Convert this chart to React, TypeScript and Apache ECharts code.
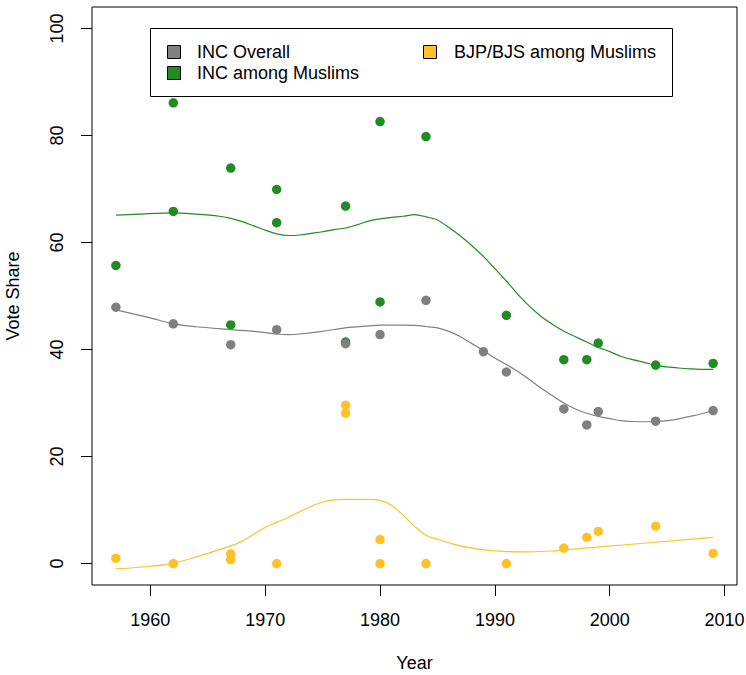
import React, { useEffect, useRef } from "react";
import * as echarts from "echarts";

const xTicks = [1960, 1970, 1980, 1990, 2000, 2010];
const yTicks = [0, 20, 40, 60, 80, 100];

const legendNames = ["INC Overall", "INC among Muslims", "BJP/BJS among Muslims"];

const incOverallYears = [1957, 1962, 1967, 1971, 1977, 1980, 1984, 1989, 1991, 1996, 1998, 1999, 2004, 2009];
const incOverallVals = [47.9, 44.8, 40.9, 43.7, 41.1, 42.8, 49.2, 39.6, 35.8, 28.9, 25.9, 28.4, 26.6, 28.6];

const incMuslimYears = [1957, 1962, 1962, 1967, 1967, 1971, 1971, 1977, 1977, 1980, 1980, 1984, 1991, 1996, 1998, 1999, 2004, 2009];
const incMuslimVals = [55.7, 86.1, 65.8, 73.9, 44.6, 69.9, 63.7, 66.8, 41.4, 82.6, 48.9, 79.8, 46.4, 38.1, 38.1, 41.2, 37.1, 37.4];

const bjpYears = [1957, 1962, 1967, 1967, 1971, 1977, 1977, 1980, 1980, 1984, 1991, 1996, 1998, 1999, 2004, 2009];
const bjpVals = [1.0, 0, 1.8, 0.75, 0, 29.6, 28.1, 4.5, 0, 0, 0, 2.9, 4.9, 6.0, 7.0, 1.9];

const overallCurveYears = [1957, 1960, 1962, 1964, 1966, 1967, 1969, 1971, 1972, 1973, 1975, 1977, 1979, 1980, 1982, 1983, 1984, 1985, 1986, 1987, 1988, 1989, 1990, 1991, 1992, 1993, 1994, 1995, 1996, 1997, 1998, 1999, 2000, 2001, 2002, 2003, 2004, 2005, 2006, 2007, 2008, 2009];
const overallCurveVals = [47.4, 45.9, 44.8, 44.25, 43.9, 43.7, 43.4, 42.9, 42.8, 42.9, 43.4, 44.05, 44.4, 44.55, 44.55, 44.5, 44.3, 44.05, 43.4, 42.4, 41.1, 39.8, 38.4, 37.2, 35.9, 34.4, 32.8, 31.4, 30.0, 28.9, 28.1, 27.5, 27.1, 26.7, 26.55, 26.5, 26.55, 26.7, 27.05, 27.5, 28.0, 28.6];

const muslimCurveYears = [1957, 1959, 1962, 1964, 1966, 1967, 1968, 1969, 1970, 1971, 1972, 1973, 1974, 1975, 1976, 1977, 1978, 1979, 1980, 1981, 1982, 1983, 1984, 1985, 1986, 1987, 1988, 1989, 1990, 1991, 1992, 1993, 1994, 1995, 1996, 1997, 1998, 1999, 2000, 2001, 2002, 2003, 2004, 2005, 2006, 2007, 2008, 2009];
const muslimCurveVals = [65.1, 65.3, 65.55, 65.3, 64.9, 64.5, 63.9, 63.1, 62.3, 61.6, 61.3, 61.4, 61.7, 62.0, 62.4, 62.7, 63.3, 64.0, 64.4, 64.7, 64.9, 65.2, 64.8, 64.2, 62.8, 61.2, 59.4, 57.4, 55.1, 52.8, 50.3, 48.1, 46.2, 44.7, 43.4, 42.4, 41.4, 40.4, 39.6, 38.7, 38.1, 37.6, 37.05, 36.75, 36.55, 36.4, 36.3, 36.3];

const bjpCurveYears = [1957, 1960, 1962, 1964, 1966, 1967, 1968, 1969, 1970, 1971, 1972, 1973, 1974, 1975, 1976, 1977, 1979, 1980, 1981, 1982, 1983, 1984, 1985, 1986, 1987, 1988, 1989, 1990, 1991, 1993, 1995, 1996, 2009];
const bjpCurveVals = [-1.0, -0.5, 0.05, 1.25, 2.6, 3.3, 4.2, 5.5, 6.75, 7.7, 8.6, 9.7, 10.7, 11.5, 11.9, 12.0, 12.0, 11.8, 10.9, 9.05, 7.0, 5.3, 4.55, 3.9, 3.3, 2.9, 2.55, 2.4, 2.25, 2.2, 2.35, 2.55, 4.9];

const GRAY = "#808080";
const GREEN = "#228B22";
const YELLOW = "#FFC125";
const FONT = "'Liberation Sans', Arial, Helvetica, sans-serif";

const zip = (xs: number[], ys: number[]) => xs.map((x, i) => [x, ys[i]]);

export default function App() {
  const ref = useRef<HTMLDivElement>(null);
  useEffect(() => {
    const chart = echarts.init(ref.current!, null, { renderer: "svg" });
    const colors = [GRAY, GREEN, YELLOW];
    const legendPos = [
      { sx: 167, tx: 197, y: 52 },
      { sx: 167, tx: 197, y: 73 },
      { sx: 423, tx: 454, y: 52 },
    ];
    const legendGraphics: any[] = [
      {
        type: "rect",
        shape: { x: 150.5, y: 28.5, width: 522, height: 68 },
        style: { fill: "#fff", stroke: "#000", lineWidth: 1 },
        z: 10,
      },
    ];
    legendNames.forEach((n, i) => {
      const p = legendPos[i];
      legendGraphics.push({
        type: "rect",
        shape: { x: p.sx + 0.5, y: p.y - 6.5, width: 13, height: 13 },
        style: { fill: colors[i], stroke: "#000", lineWidth: 1 },
        z: 11,
      });
      legendGraphics.push({
        type: "text",
        x: p.tx,
        y: p.y,
        style: {
          text: n,
          fill: "#000",
          font: `18px ${FONT}`,
          verticalAlign: "middle",
          align: "left",
        },
        z: 11,
      });
    });

    const scatter = (name: string, xs: number[], ys: number[], color: string, z: number) => ({
      name,
      type: "scatter",
      data: zip(xs, ys),
      symbol: "circle",
      symbolSize: 9.5,
      itemStyle: { color, opacity: 1 },
      emphasis: { disabled: true },
      z,
    });
    const curve = (name: string, xs: number[], ys: number[], color: string) => ({
      name,
      type: "line",
      data: zip(xs, ys),
      showSymbol: false,
      smooth: 0.3,
      lineStyle: { color, width: 1.2 },
      emphasis: { disabled: true },
      z: 4,
    });

    const option: any = {
      animation: false,
      backgroundColor: "#fff",
      textStyle: { fontFamily: FONT },
      grid: {
        left: 92,
        right: 9,
        top: 7,
        bottom: 90,
        show: true,
        borderColor: "#000",
        borderWidth: 1,
        backgroundColor: "transparent",
        containLabel: false,
        outerBoundsMode: "none",
      },
      xAxis: {
        type: "value",
        min: 1954.92,
        max: 2011.08,
        name: "Year",
        nameLocation: "middle",
        nameGap: 69,
        nameTextStyle: { fontSize: 18, color: "#000", fontFamily: FONT },
        axisLine: { show: false, onZero: false },
        splitLine: { show: false },
        axisTick: {
          show: true,
          length: 11,
          customValues: xTicks,
          lineStyle: { color: "#000", width: 1 },
        },
        axisLabel: {
          customValues: xTicks,
          fontSize: 18,
          color: "#000",
          margin: 26,
          fontFamily: FONT,
          formatter: (v: number) => String(v),
        },
      },
      yAxis: {
        type: "value",
        min: -4,
        max: 104,
        name: "Vote Share",
        nameLocation: "middle",
        nameGap: 70,
        nameTextStyle: { fontSize: 18, color: "#000", fontFamily: FONT },
        axisLine: { show: false, onZero: false },
        splitLine: { show: false },
        axisTick: {
          show: true,
          length: 11,
          customValues: yTicks,
          lineStyle: { color: "#000", width: 1 },
        },
        axisLabel: {
          customValues: yTicks,
          fontSize: 18,
          color: "#000",
          margin: 26,
          rotate: 90,
          fontFamily: FONT,
          formatter: (v: number) => String(v),
        },
      },
      graphic: legendGraphics,
      series: [
        scatter(legendNames[1], incMuslimYears, incMuslimVals, GREEN, 2),
        scatter(legendNames[0], incOverallYears, incOverallVals, GRAY, 3),
        scatter(legendNames[2], bjpYears, bjpVals, YELLOW, 3),
        curve(legendNames[0] + " fit", overallCurveYears, overallCurveVals, GRAY),
        curve(legendNames[1] + " fit", muslimCurveYears, muslimCurveVals, GREEN),
        curve(legendNames[2] + " fit", bjpCurveYears, bjpCurveVals, YELLOW),
      ],
    };
    chart.setOption(option);
    return () => chart.dispose();
  }, []);
  return (
    <div
      ref={ref}
      style={{ position: "absolute", left: 0, top: 0, width: 746, height: 675 }}
    />
  );
}
